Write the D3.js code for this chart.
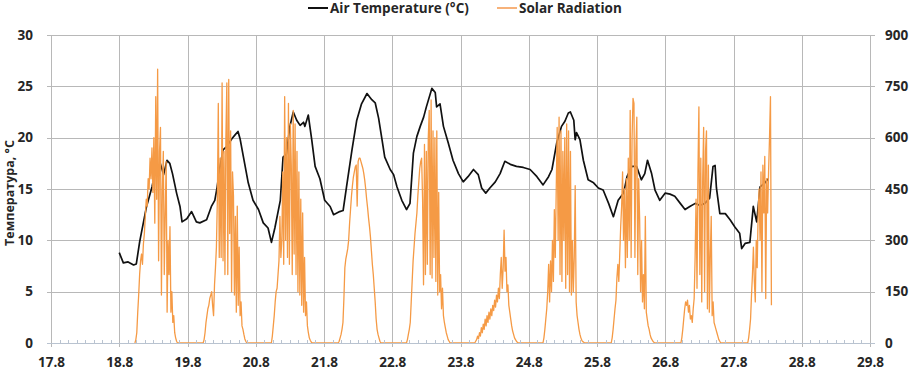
<!DOCTYPE html>
<html lang="ru">
<head>
<meta charset="UTF-8">
<title>Air Temperature and Solar Radiation</title>
<script src="https://d3js.org/d3.v7.min.js"></script>
<style>
  body { margin: 0; background: #fff; }
  svg text { font-family: "Open Sans", Arial, sans-serif; font-weight: 700; fill: #262626; }
</style>
</head>
<body>
<div id="chart"></div>
<script>
// x axis: day of August (label "18.8" = 18 August, 00:00)
const dayTicks = [17, 18, 19, 20, 21, 22, 23, 24, 25, 26, 27, 28, 29];
const dayLabels = ["17.8", "18.8", "19.8", "20.8", "21.8", "22.8", "23.8", "24.8", "25.8", "26.8", "27.8", "28.8", "29.8"];
const tempTicks = [0, 5, 10, 15, 20, 25, 30];
const solarTicks = [0, 150, 300, 450, 600, 750, 900];

// air temperature, time in days
const tempTime = [
  18.00, 18.06, 18.13, 18.21, 18.25, 18.30, 18.40, 18.48, 18.52, 18.60, 18.65, 18.70, 18.74, 18.78, 18.84, 18.89, 18.92, 18.99,
  19.06, 19.13, 19.18, 19.28, 19.35, 19.40, 19.43, 19.47, 19.52, 19.57, 19.65, 19.70, 19.74, 19.77, 19.82, 19.89, 19.96,
  20.04, 20.11, 20.18, 20.23, 20.28, 20.36, 20.40, 20.45, 20.50, 20.55, 20.60, 20.65, 20.70, 20.72, 20.77, 20.82, 20.87, 20.94,
  21.01, 21.09, 21.14, 21.23, 21.28, 21.33, 21.41, 21.48, 21.55, 21.63, 21.70, 21.75, 21.80, 21.85, 21.89, 21.97,
  22.02, 22.07, 22.14, 22.21, 22.26, 22.31, 22.36, 22.41, 22.46, 22.50, 22.58, 22.63, 22.65, 22.70, 22.75, 22.82, 22.89, 22.97,
  23.04, 23.11, 23.19, 23.26, 23.31, 23.37, 23.43, 23.51, 23.58, 23.65, 23.73, 23.82, 23.92,
  24.02, 24.12, 24.21, 24.29, 24.34, 24.41, 24.48, 24.53, 24.58, 24.61, 24.66, 24.68, 24.70, 24.75, 24.80, 24.87, 24.95,
  25.02, 25.09, 25.17, 25.24, 25.31, 25.39, 25.44, 25.51, 25.58, 25.65, 25.70, 25.74, 25.80, 25.85, 25.92,
  26.00, 26.07, 26.14, 26.22, 26.29, 26.36, 26.44, 26.51, 26.58, 26.65, 26.70, 26.73, 26.75, 26.80, 26.88, 26.95,
  27.02, 27.09, 27.12, 27.17, 27.24, 27.29, 27.34, 27.39, 27.46, 27.51
];
const tempValue = [
  8.8, 7.8, 7.9, 7.6, 7.7, 9.9, 13.3, 15.2, 16.5, 17.5, 16.4, 17.8, 17.5, 16.5, 14.6, 13.3, 11.8, 12.1,
  12.8, 11.8, 11.7, 12.0, 13.3, 13.9, 15.0, 16.9, 18.8, 19.1, 19.9, 20.3, 20.6, 19.9, 18.1, 15.6, 13.9,
  13.0, 11.7, 11.2, 9.8, 11.2, 13.9, 18.1, 18.4, 21.1, 22.5, 21.7, 21.2, 21.5, 21.1, 22.2, 19.8, 17.2, 16.0,
  13.9, 13.3, 12.5, 12.8, 12.9, 15.2, 18.8, 21.7, 23.3, 24.3, 23.7, 23.4, 21.9, 19.8, 18.1, 16.9,
  16.4, 15.2, 13.9, 13.0, 13.6, 18.5, 20.1, 21.1, 22.0, 23.0, 24.8, 24.4, 23.0, 23.3, 21.1, 19.5, 17.8, 16.5,
  15.7, 16.2, 16.9, 16.4, 15.1, 14.6, 15.1, 15.7, 16.5, 17.7, 17.4, 17.2, 17.1,
  16.9, 16.2, 15.4, 16.2, 16.9, 19.5, 21.1, 21.6, 22.4, 22.5, 21.7, 19.8, 20.5, 19.8, 17.8, 15.9, 15.6,
  15.1, 14.9, 13.6, 12.3, 13.9, 14.6, 16.2, 17.2, 17.2, 15.9, 16.5, 17.8, 16.5, 14.9, 13.9,
  14.6, 14.5, 14.3, 13.6, 13.0, 13.3, 13.6, 13.4, 13.6, 14.1, 17.2, 17.3, 15.1, 12.6, 12.6, 12.0,
  11.3, 10.7, 9.2, 9.7, 9.8, 13.3, 11.8, 15.2, 15.6, 16.0
];

// solar radiation, W/m2: 20-minute readings for each day, starting at the hour listed
const solarDays = [18, 19, 20, 21, 22, 23, 24, 25, 26, 27];
const solarStartHour = [5.5, 5.5, 5.5, 5.0, 5.0, 5.0, 5.0, 5.0, 5.5, 5.0];
const solarStepMinutes = 20;
const solarValues = [
  [0, 10, 30, 90, 140, 200, 240, 260, 230, 290, 320, 370, 420, 400, 480, 450, 540, 480, 570, 440, 600, 350, 720, 420,
   800, 240, 560, 630, 140, 450, 560, 200, 380, 530, 90, 300, 200, 340, 90, 150, 60, 80, 30, 15, 5, 0],
  [0, 10, 30, 60, 80, 100, 110, 130, 140, 150, 110, 80, 170, 220, 280, 420, 700, 250, 540, 250, 760, 240, 560, 200,
   600, 760, 200, 770, 320, 620, 150, 500, 430, 140, 370, 90, 400, 110, 280, 80, 120, 50, 40, 25, 12, 5, 0],
  [0, 20, 50, 80, 120, 150, 160, 200, 240, 370, 250, 300, 500, 230, 720, 300, 600, 250, 700, 230, 640, 520,
   200, 680, 260, 640, 200, 560, 150, 500, 140, 420, 110, 380, 90, 250, 80, 120, 50, 30, 15, 8, 3, 0],
  [0, 5, 15, 25, 40, 60, 130, 220, 245, 260, 275, 300, 350, 390, 430, 460, 485, 500, 515, 520, 400, 530, 540,
   540, 530, 520, 510, 495, 475, 450, 420, 395, 365, 340, 310, 270, 230, 200, 160, 120, 70, 40, 25, 15, 5, 0],
  [0, 10, 25, 40, 60, 120, 180, 240, 280, 320, 350, 380, 430, 470, 510, 530, 540, 420, 170, 580, 200, 560, 230, 600,
   680, 200, 710, 190, 620, 250, 600, 180, 620, 140, 440, 150, 200, 100, 160, 80, 60, 45, 30, 20, 10, 5, 0],
  [0, 5, 10, 20, 12, 30, 20, 45, 30, 55, 40, 70, 50, 80, 60, 90, 70, 100, 80, 110, 95, 125, 105, 140,
   120, 160, 130, 200, 250, 160, 220, 330, 210, 250, 150, 170, 110, 90, 70, 50, 35, 25, 15, 10, 5, 2, 0],
  [0, 15, 40, 70, 100, 150, 230, 120, 240, 150, 300, 180, 390, 250, 450, 630, 300, 660, 200, 620, 180, 560, 300,
   600, 160, 640, 200, 620, 150, 560, 140, 300, 150, 250, 460, 120, 80, 60, 40, 25, 15, 8, 4, 2, 0],
  [0, 15, 40, 70, 100, 125, 190, 230, 180, 260, 340, 400, 500, 300, 450, 220, 480, 250, 540, 300, 680, 250, 600, 715,
   700, 250, 560, 660, 200, 480, 360, 150, 300, 120, 200, 100, 370, 90, 70, 50, 40, 25, 15, 10, 5, 2, 0],
  [0, 15, 40, 70, 100, 120, 110, 125, 90, 110, 70, 80, 60, 100, 130, 250, 420, 160, 500, 690, 200, 540,
   120, 480, 630, 150, 560, 620, 100, 520, 90, 250, 370, 80, 120, 60, 50, 40, 30, 20, 10, 5, 0],
  [0, 15, 40, 70, 140, 200, 280, 180, 120, 300, 220, 380, 450, 300, 500, 150, 520, 380, 545, 130, 480, 380, 500,
   600, 720, 110]
];

const W = 910, H = 371;
const plot = { left: 51, right: 870, top: 35, bottom: 343 };

const x = d3.scaleLinear().domain([17, 29]).range([plot.left, plot.right]);
const yT = d3.scaleLinear().domain([0, 30]).range([plot.bottom, plot.top]);
const yS = d3.scaleLinear().domain([0, 900]).range([plot.bottom, plot.top]);

const tempData = tempTime.map((t, i) => ({ t: t, v: tempValue[i] }));
const solarData = [];
solarDays.forEach((day, k) => {
  solarValues[k].forEach((v, i) => {
    const hour = solarStartHour[k] + i * solarStepMinutes / 60;
    solarData.push({ t: day + hour / 24, v: v });
  });
});

const svg = d3.select("#chart").append("svg")
  .attr("width", W).attr("height", H);

const gridColor = "#b8b8b8";

// horizontal gridlines (with outer ticks on both sides)
svg.append("g").selectAll("line")
  .data(tempTicks.slice(1))
  .join("line")
  .attr("x1", plot.left - 4).attr("x2", plot.right + 5)
  .attr("y1", d => Math.round(yT(d)) + 0.5).attr("y2", d => Math.round(yT(d)) + 0.5)
  .attr("stroke", gridColor).attr("stroke-width", 1);

// vertical gridlines at each day
svg.append("g").selectAll("line")
  .data(dayTicks)
  .join("line")
  .attr("x1", d => Math.round(x(d)) + 0.5).attr("x2", d => Math.round(x(d)) + 0.5)
  .attr("y1", plot.top).attr("y2", plot.bottom + 4)
  .attr("stroke", gridColor).attr("stroke-width", 1);

// temperature line
svg.append("path")
  .datum(tempData)
  .attr("fill", "none")
  .attr("stroke", "#111")
  .attr("stroke-width", 1.7)
  .attr("stroke-linejoin", "round")
  .attr("d", d3.line().x(d => x(d.t)).y(d => yT(d.v)));

// solar radiation line
svg.append("path")
  .datum(solarData)
  .attr("fill", "none")
  .attr("stroke", "#f59a45")
  .attr("stroke-width", 1.3)
  .attr("stroke-linejoin", "round")
  .attr("d", d3.line().x(d => x(d.t)).y(d => yS(d.v)));

// x axis line + minor ticks (every 3 hours)
const minor = d3.range(17, 29, 0.125).filter(d => Math.abs(d - Math.round(d)) > 1e-6);
svg.append("g").selectAll("line")
  .data(minor)
  .join("line")
  .attr("x1", d => Math.round(x(d)) + 0.5).attr("x2", d => Math.round(x(d)) + 0.5)
  .attr("y1", plot.bottom - 3).attr("y2", plot.bottom)
  .attr("stroke", "#b9c3d0");
svg.append("line")
  .attr("x1", plot.left - 4).attr("x2", plot.right + 5)
  .attr("y1", plot.bottom + 0.5).attr("y2", plot.bottom + 0.5)
  .attr("stroke", "#b9c3d0").attr("stroke-width", 1.2);

// left axis labels
const leftAxis = d3.axisLeft(yT).tickValues(tempTicks).tickSize(0).tickPadding(18);
const gL = svg.append("g").attr("transform", `translate(${plot.left},0)`).call(leftAxis);
gL.select(".domain").remove();
gL.selectAll("text").attr("font-size", 13.5).attr("font-family", null);

// right axis labels
const rightAxis = d3.axisRight(yS).tickValues(solarTicks).tickSize(0).tickPadding(15);
const gR = svg.append("g").attr("transform", `translate(${plot.right},0)`).call(rightAxis);
gR.select(".domain").remove();
gR.selectAll("text").attr("font-size", 13.5).attr("font-family", null);

// bottom axis labels
const bottomAxis = d3.axisBottom(x).tickValues(dayTicks).tickFormat((d, i) => dayLabels[i]).tickSize(0).tickPadding(14);
const gB = svg.append("g").attr("transform", `translate(0,${plot.bottom})`).call(bottomAxis);
gB.select(".domain").remove();
gB.selectAll("text").attr("font-size", 13.5).attr("font-family", null);

// y axis title
svg.append("text")
  .attr("transform", `translate(14,${(plot.top + plot.bottom) / 2 + 4}) rotate(-90)`)
  .attr("text-anchor", "middle")
  .attr("font-size", 12.5)
  .text("Температура, °С");

// legend
const legend = [
  { label: "Air Temperature (°C)", color: "#111", x: 308 },
  { label: "Solar Radiation", color: "#f7b27a", x: 497 }
];
const lg = svg.append("g").selectAll("g").data(legend).join("g")
  .attr("transform", d => `translate(${d.x},8)`);
lg.append("line").attr("x1", 0).attr("x2", 20).attr("stroke", d => d.color).attr("stroke-width", 2);
lg.append("text").attr("x", 22).attr("y", 5).attr("font-size", 13.5).text(d => d.label);
</script>
</body>
</html>
